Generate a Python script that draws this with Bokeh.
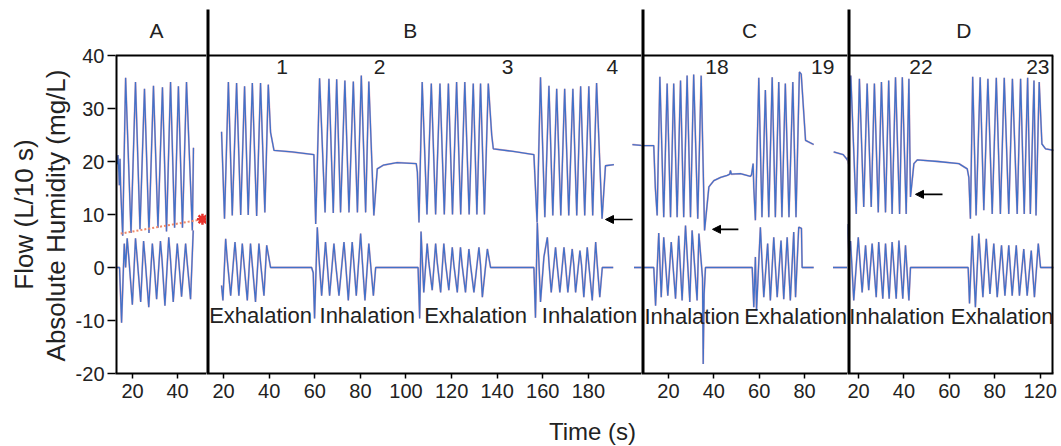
import math
from bokeh.plotting import figure
from bokeh.layouts import row, column
from bokeh.models import Range1d, FixedTicker, Arrow, NormalHead, Span
from bokeh.core.properties import value
from bokeh.embed import file_html
from bokeh.resources import INLINE

NaN = float("nan")

# ---------------- data ----------------
# Panel A
A_hum_t = [12.9, 13.2, 13.5, 13.9, 14.1, 14.4, 14.7, 15.6, 16.9, 19.3, 21.3, 23.3, 25.3, 27.3, 29.3,
           31.3, 33.3, 35.1, 36.9, 38.7, 40.4, 42.2, 44.0, 46.6, 47.1]
A_hum_v = [21.0, 19.5, 21.2, 18.0, 15.5, 20.5, 15.0, 6.0, 35.8, 6.5, 35.0, 7.2, 33.7, 6.5, 34.3,
           7.5, 34.0, 6.8, 35.0, 7.5, 34.2, 7.5, 35.0, 7.0, 22.6]
A_flow_t = [12.4, 14.2, 15.1, 16.3, 16.9, 17.6, 18.3, 19.9, 21.3, 22.0, 23.6, 24.9, 25.6, 27.2, 28.8,
            29.5, 30.7, 32.4, 33.1, 34.4, 36.1, 36.8, 38.1, 39.9, 40.6, 41.8, 43.6, 44.3, 45.8, 47.0]
A_flow_v = [0, 0, -10.4, 4.5, 0, 5.5, 2, -7, 5.5, 2, -6.5, 5, 1.5, -7.5, 4.5,
            1, -6, 5, 1.5, -7.2, 5.7, 2, -6.5, 4.5, 1, -5.5, 4.5, 1, -6, 7]
A_drift_t = [14.7, 51.1]
A_drift_v = [6.4, 9.1]

# Panel B
B_hum_t = [19.1, 20.4, 22.1, 23.8, 25.7, 27.5, 29.2, 30.8, 32.6, 34.5, 36.2, 38.1, 39.6, 40.6, 42.1, 50.0, 59.6,
           60.4, 62.1, 64.5, 66.2, 68.1, 69.6, 71.3, 73.2, 75.0, 76.9, 78.7, 80.4, 82.3, 83.7, 85.9, 87.4,
           90.0, 96.0, 104.5, 105.0,
           105.7, 107.1, 109.2, 111.1, 113.0, 114.9, 116.8, 118.6, 120.4, 122.2, 124.0, 125.8, 127.7, 129.5,
           131.1, 132.7, 134.4, 136.1, 137.6, 138.3, 147.0, 156.1,
           157.5, 159.0, 160.9, 162.7, 164.4, 166.1, 167.9, 169.6, 171.4, 173.2, 174.9, 176.6, 178.4, 180.2,
           181.9, 183.6, 186.0, 187.5, 191.2, NaN, 199.3, 204.0]
B_hum_v = [25.6, 9.2, 35.0, 9.8, 34.8, 9.9, 34.2, 9.9, 34.8, 9.7, 34.8, 10.4, 34.5, 25.5, 22.1, 21.8, 21.3,
           8.2, 35.7, 10.4, 35.6, 10.3, 35.5, 10.4, 35.3, 10.4, 35.1, 10.4, 36.2, 10.4, 35.1, 9.8, 18.6,
           19.3, 19.8, 19.6, 18.0,
           8.5, 35.0, 10.0, 34.7, 10.0, 34.7, 10.0, 34.7, 10.0, 35.0, 10.0, 35.0, 10.0, 34.7,
           10.0, 34.7, 10.0, 34.7, 25.0, 22.4, 21.9, 21.3,
           8.5, 35.9, 9.5, 34.3, 9.8, 33.7, 9.8, 33.7, 9.8, 33.7, 9.8, 34.2, 9.8, 34.2,
           9.8, 34.8, 9.2, 19.2, 19.4, NaN, 23.2, 23.0]
B_flow_t = [19.1, 19.7, 20.9, 21.6, 23.1, 25.0, 25.7, 26.7, 28.2, 28.9, 30.4, 31.8, 32.5, 34.0, 35.5, 36.2,
            37.7, 38.9, 40.6, 58.6, 59.3, 59.9, 61.1, 61.8, 63.0, 64.7, 65.4, 66.5, 68.4, 69.1, 70.6, 72.8,
            73.5, 74.7, 76.4, 77.1, 78.2, 80.1, 80.8, 82.0, 83.7, 84.4, 85.7, 86.7, 105.3, 106.0, 106.6,
            107.8, 109.3, 110.0, 111.5, 113.0, 113.7, 115.2, 116.6, 117.3, 118.8, 120.3, 121.0, 122.5, 123.9,
            124.6, 126.1, 127.6, 128.3, 129.8, 132.0, 132.7, 133.5, 135.7, 137.1, 156.1, 156.8, 157.6, 159.0,
            160.5, 162.0, 162.7, 163.7, 165.6, 166.3, 167.5, 169.3, 170.0, 171.0, 172.9, 173.6, 174.4, 176.3,
            177.0, 178.0, 179.5, 180.2, 181.7, 183.2, 183.9, 185.0, 186.1, 190.9, NaN, 200.0, 204.0]
B_flow_v = [-3.4, -6.2, 5.4, 1.5, -5.3, 4.8, 1.0, -5.3, 4.5, 1, -6.2, 4.5, 1, -6.5, 4.5, 1,
            -5.3, 4.2, 0, 0, -1, -9.6, 7.6, 2, -5.3, 4.8, 1, -5.3, 4.5, 1, -5.3, 4.8,
            1, -6.2, 4.8, 1, -5.3, 6.4, 1.5, -6.2, 4.5, 1, -5.3, 0, 0, -9.6, 6.8,
            -4.7, 4.5, 1, -4.3, 4.5, 1, -4.7, 4.5, 1, -4.3, 3.8, 0.5, -4.7, 3.8,
            0.5, -4.7, 3.5, 0.5, -4.7, 3.8, 0.5, -5.6, 3.5, 0, 0, -9.5, 8.5, -6.5,
            2, 5.7, 1, -4.7, 3.8, 0.5, -4.7, 3.8, 0.5, -4.7, 3.5, 0.5, -4.7, 3.2,
            0.5, -5.6, 3.8, 0.5, -6.2, 4.8, 0.5, -5.6, 0, 0, NaN, 0, 0]

# Panel C
C_hum_t = [7.5, 13.5, 14.2, 15.0, 16.2, 17.9, 19.4, 20.9, 22.3, 23.8, 25.3, 26.7, 28.2, 29.7, 31.1, 32.9,
           34.4, 35.9, 37.8, 40.0, 43.0, 45.9, 47.0, 47.3, 47.7, 51.7, 56.1, 56.6, 57.3, 57.6,
           58.3, 59.8, 61.2, 62.7, 64.2, 65.7, 67.1, 68.6, 70.0, 71.5, 73.1, 74.8, 76.2, 77.7, 78.5,
           80.4, 84.0, NaN, 92.8, 97.0, 98.5, 99.2]
C_hum_v = [23.0, 23.0, 15.0, 9.8, 36.0, 9.5, 34.7, 9.5, 34.7, 9.5, 35.3, 9.5, 36.2, 9.5, 36.4, 9.2,
           36.2, 7.0, 15.2, 16.4, 17.0, 17.4, 17.6, 18.3, 17.6, 17.7, 17.2, 17.5, 19.6, 15.0,
           8.9, 35.8, 9.5, 33.5, 9.5, 35.9, 9.5, 35.0, 9.5, 34.7, 9.5, 35.0, 9.5, 36.9, 36.5,
           24.0, 23.2, NaN, 21.8, 21.3, 20.5, 20.0]
C_flow_t = [7.5, 13.5, 14.3, 15.7, 16.8, 17.9, 19.7, 21.2, 23.1, 24.5, 26.0, 27.5, 29.4, 30.4, 32.6, 33.4,
            35.0, 35.3, 35.7, 36.3, 56.9, 57.6, 58.3, 58.8, 60.5, 62.0, 63.7, 64.9, 66.4, 67.9, 69.6,
            70.8, 72.3, 73.7, 75.2, 76.0, 77.4, 78.6, 78.9, 84.0, NaN, 92.5, 99.2]
C_flow_v = [0, 0, -7.2, 6.5, -5.6, 5.7, -5.3, 4.8, -5.9, 6.0, -6.2, 7.9, -6.5, 7.0, -6.2, 6.4,
            -2, -18.2, -5, 0, 0, -7.5, 2, -8.1, 7.6, -5.6, 4.5, -6.2, 5.7, -5.6, 5.1,
            -6.0, 5.7, -6.2, 6.7, -5.6, 7.6, 7.4, 0, 0, NaN, 0, 0]

# Panel D
D_hum_t = [15.0, 15.6, 16.6, 19.0, 20.4, 22.3, 23.8, 25.6, 27.0, 28.7, 30.1, 31.9, 33.3, 34.8, 36.3, 38.1,
           39.3, 41.0, 42.2, 42.9, 44.4, 45.9, 55.0, 64.2, 67.9, 68.6,
           69.3, 70.3, 71.8, 73.6, 75.2, 77.0, 78.9, 80.7, 82.5, 84.2, 86.2, 87.8, 89.9, 91.4, 93.0, 94.5,
           95.7, 97.3, 98.2, 99.6, 100.8, 102.4, 106.0]
D_hum_v = [20.8, 19.5, 36.2, 10.1, 35.6, 11.4, 34.7, 11.4, 34.7, 10.4, 35.0, 10.4, 35.3, 10.1, 35.9, 10.1,
           35.9, 10.1, 35.6, 13.3, 19.6, 20.3, 20.0, 19.6, 18.6, 17.0,
           9.2, 36.0, 9.8, 35.9, 10.8, 35.6, 10.1, 35.8, 10.1, 35.8, 10.1, 35.6, 10.1, 35.6, 10.1, 35.8,
           10.1, 35.3, 9.8, 35.0, 23.3, 22.4, 22.1]
D_flow_t = [15.0, 15.8, 16.5, 17.9, 19.9, 21.6, 23.1, 24.5, 26.0, 27.8, 28.9, 30.7, 31.9, 33.5, 34.8, 36.6,
            37.8, 39.5, 40.7, 42.2, 42.9, 68.3, 68.9, 70.1, 71.5, 73.0, 74.8, 76.3, 77.9, 79.6, 81.1,
            83.0, 84.5, 86.2, 87.7, 89.5, 90.9, 92.8, 94.3, 96.1, 97.5, 99.2, 100.2, 106.0]
D_flow_v = [8.2, 2, 5, -6.2, 5.7, -4.7, 4.2, -4.3, 4.5, -5.6, 4.8, -5.9, 4.5, -5.9, 4.8, -5.9,
            5.1, -5.9, 4.2, -6.2, 0, 0, -6.8, 6.0, -7.5, 6.4, -5.6, 5.4, -5.0, 4.5, -5.6,
            4.2, -5.3, 4.2, -5.3, 4.2, -5.3, 3.5, -5.3, 3.2, -5.6, 4.5, 0, 0]

# texts
panel_names = ["A", "B", "C", "D"]
panel_name_x = [30.6, 101.9, 55.7, 66.4]
B_num_x = [45.7, 88.4, 144.6, 190.5]
B_num = ["1", "2", "3", "4"]
C_num_x = [41.4, 88.0]
C_num = ["18", "19"]
D_num_x = [47.5, 99.0]
D_num = ["22", "23"]
B_phase_x = [36.2, 83.0, 130.5, 180.5]
B_phase = ["Exhalation", "Inhalation", "Exhalation", "Inhalation"]
C_phase_x = [30.4, 76.0]
C_phase = ["Inhalation", "Exhalation"]
D_phase_x = [36.9, 83.3]
D_phase = ["Inhalation", "Exhalation"]

A_ticks = [20, 40]
B_ticks = [20, 40, 60, 80, 100, 120, 140, 160, 180]
C_ticks = [20, 40, 60, 80]
D_ticks = [20, 40, 60, 80, 100]
D_tick_labels = ["20", "40", "60", "80", "120"]
y_ticks = [-20, -10, 0, 10, 20, 30, 40]
y_tick_labels = ["-20", "-10", "0", "10", "20", "30", "40"]

# ---------------- styling / layout ----------------
FONT = "Liberation Sans"
BLUE = "#4171c9"
PINK = "#eab2be"
INK = "#222222"
PX_PER_Y = 5.3
FRAME_H = 373                       # page y 0 .. 373 (y = -20 at bottom)
Y_TOP = 40 + 55 / PX_PER_Y          # 40 lands at page y 55
DIV_TOP = 40 + 46 / PX_PER_Y        # dividers start near page y 9
ROW_BOTTOM = 40
ROW_H = FRAME_H + ROW_BOTTOM
TIME_H = 32


def make_panel(xr, frame_w, ticks, border_left=0, border_right=0, with_y=False, labels=None):
    p = figure(x_range=Range1d(*xr), y_range=Range1d(-20, Y_TOP),
               frame_width=frame_w, frame_height=FRAME_H,
               min_border_left=border_left, min_border_right=border_right,
               min_border_top=0, min_border_bottom=ROW_BOTTOM,
               toolbar_location=None, output_backend="svg",
               y_axis_location="left" if with_y else None,
               outline_line_color=None, background_fill_color="white",
               border_fill_color="white")
    p.xgrid.visible = False
    p.ygrid.visible = False
    xa = p.xaxis[0]
    xa.ticker = FixedTicker(ticks=ticks, minor_ticks=[])
    if labels:
        xa.major_label_overrides = {t: l for t, l in zip(ticks, labels)}
    xa.axis_line_width = 2
    xa.axis_line_color = "black"
    xa.major_tick_out = 5
    xa.major_tick_in = 0
    xa.major_tick_line_width = 1.5
    xa.minor_tick_out = 0
    xa.minor_tick_in = 0
    xa.major_label_text_font = FONT
    xa.major_label_text_font_size = "20px"
    xa.major_label_text_color = INK
    xa.major_label_standoff = 5
    if with_y:
        ya = p.yaxis[0]
        ya.ticker = FixedTicker(ticks=y_ticks, minor_ticks=[])
        ya.major_label_overrides = {t: l for t, l in zip(y_ticks, y_tick_labels)}
        ya.axis_line_color = None
        ya.major_tick_out = 8
        ya.major_tick_in = 0
        ya.major_tick_line_width = 1.5
        ya.minor_tick_out = 0
        ya.minor_tick_in = 0
        ya.major_label_text_font = FONT
        ya.major_label_text_font_size = "20px"
        ya.major_label_text_color = INK
        ya.major_label_standoff = 3
    p.add_layout(Span(location=40, dimension="width", line_color="black", line_width=1.8))
    return p


def draw_trace(p, t, v):
    p.line(t, v, line_color=PINK, line_width=1.9)
    p.line(t, v, line_color=BLUE, line_width=1.3)


def add_texts(p, xs, y, texts, size="21px", angle=0.0):
    p.text(x=xs, y=[y] * len(xs), text=texts, text_font=value(FONT), text_font_size=size,
           text_align="center", text_baseline="middle", text_color=INK, angle=angle)


def blank_fig(w, h):
    f = figure(x_range=Range1d(0, w), y_range=Range1d(0, h), frame_width=w, frame_height=h,
               min_border=0, toolbar_location=None, output_backend="svg",
               x_axis_location=None, y_axis_location=None, outline_line_color=None,
               background_fill_color="white", border_fill_color="white")
    f.xgrid.visible = False
    f.ygrid.visible = False
    return f


A_rng = (12.4, 52.9)
B_rng = (12.5, 203.3)
C_rng = (8.1, 98.9)
D_rng = (15.15, 105.9)

LABEL_W = 72
pA = make_panel(A_rng, 91, A_ticks, border_left=115 - LABEL_W, with_y=True)
pB = make_panel(B_rng, 435, B_ticks)
pC = make_panel(C_rng, 206, C_ticks)
pD = make_panel(D_rng, 206, D_ticks, border_right=6, labels=D_tick_labels)

for p, ht, hv, ft, fv in [(pA, A_hum_t, A_hum_v, A_flow_t, A_flow_v),
                          (pB, B_hum_t, B_hum_v, B_flow_t, B_flow_v),
                          (pC, C_hum_t, C_hum_v, C_flow_t, C_flow_v),
                          (pD, D_hum_t, D_hum_v, D_flow_t, D_flow_v)]:
    draw_trace(p, ft, fv)
    draw_trace(p, ht, hv)

# drift line and star in A
pA.line(A_drift_t, A_drift_v, line_color="#f08a6a", line_width=2, line_dash="2 2")
pA.scatter([A_drift_t[-1]], [A_drift_v[-1]], marker="asterisk", size=11,
           line_color="#e8312a", line_width=2.5)

# borders: left of A, dividers at the left edge of B, C, D, right of D
pA.segment(x0=[A_rng[0]], y0=[-20], x1=[A_rng[0]], y1=[40], line_color="black", line_width=4)
pD.segment(x0=[D_rng[1]], y0=[-20], x1=[D_rng[1]], y1=[40], line_color="black", line_width=4)
for p, rng in [(pB, B_rng), (pC, C_rng), (pD, D_rng)]:
    p.segment(x0=[rng[0]], y0=[-20], x1=[rng[0]], y1=[DIV_TOP], line_color="black", line_width=6)

# panel names
for p, n, x in zip([pA, pB, pC, pD], panel_names, panel_name_x):
    add_texts(p, [x], 44.7, [n], size="21px")

add_texts(pB, B_num_x, 37.8, B_num)
add_texts(pC, C_num_x, 37.9, C_num)
add_texts(pD, D_num_x, 37.9, D_num)
add_texts(pB, B_phase_x, -9.1, B_phase, size="22px")
add_texts(pC, C_phase_x, -9.2, C_phase, size="22px")
add_texts(pD, D_phase_x, -9.3, D_phase, size="22px")

# arrows
for p, xs, xe, y in [(pB, 199.4, 187.5, 9.06), (pC, 50.8, 39.4, 7.2), (pD, 57.0, 45.1, 13.8)]:
    p.add_layout(Arrow(end=NormalHead(size=8, fill_color="black", line_color="black"),
                       x_start=xs, y_start=y, x_end=xe, y_end=y, line_color="black", line_width=1.6))

# y-axis title strip (pixel coordinates, origin bottom-left)
ylab = blank_fig(LABEL_W, ROW_H)
add_texts(ylab, [23], ROW_H - 214, ["Flow (L/10 s)"], size="26px", angle=math.pi / 2)
add_texts(ylab, [55], ROW_H - 215, ["Absolute Humidity (mg/L)"], size="26px", angle=math.pi / 2)

# x-axis title strip
TOTAL_W = 115 + 91 + 435 + 206 + 206 + 6
xlab = blank_fig(TOTAL_W, TIME_H)
add_texts(xlab, [592], TIME_H - (431 - ROW_H), ["Time (s)"], size="24px")

layout = column(row(ylab, pA, pB, pC, pD), xlab)
open("out.html", "w").write(file_html(layout, INLINE))
